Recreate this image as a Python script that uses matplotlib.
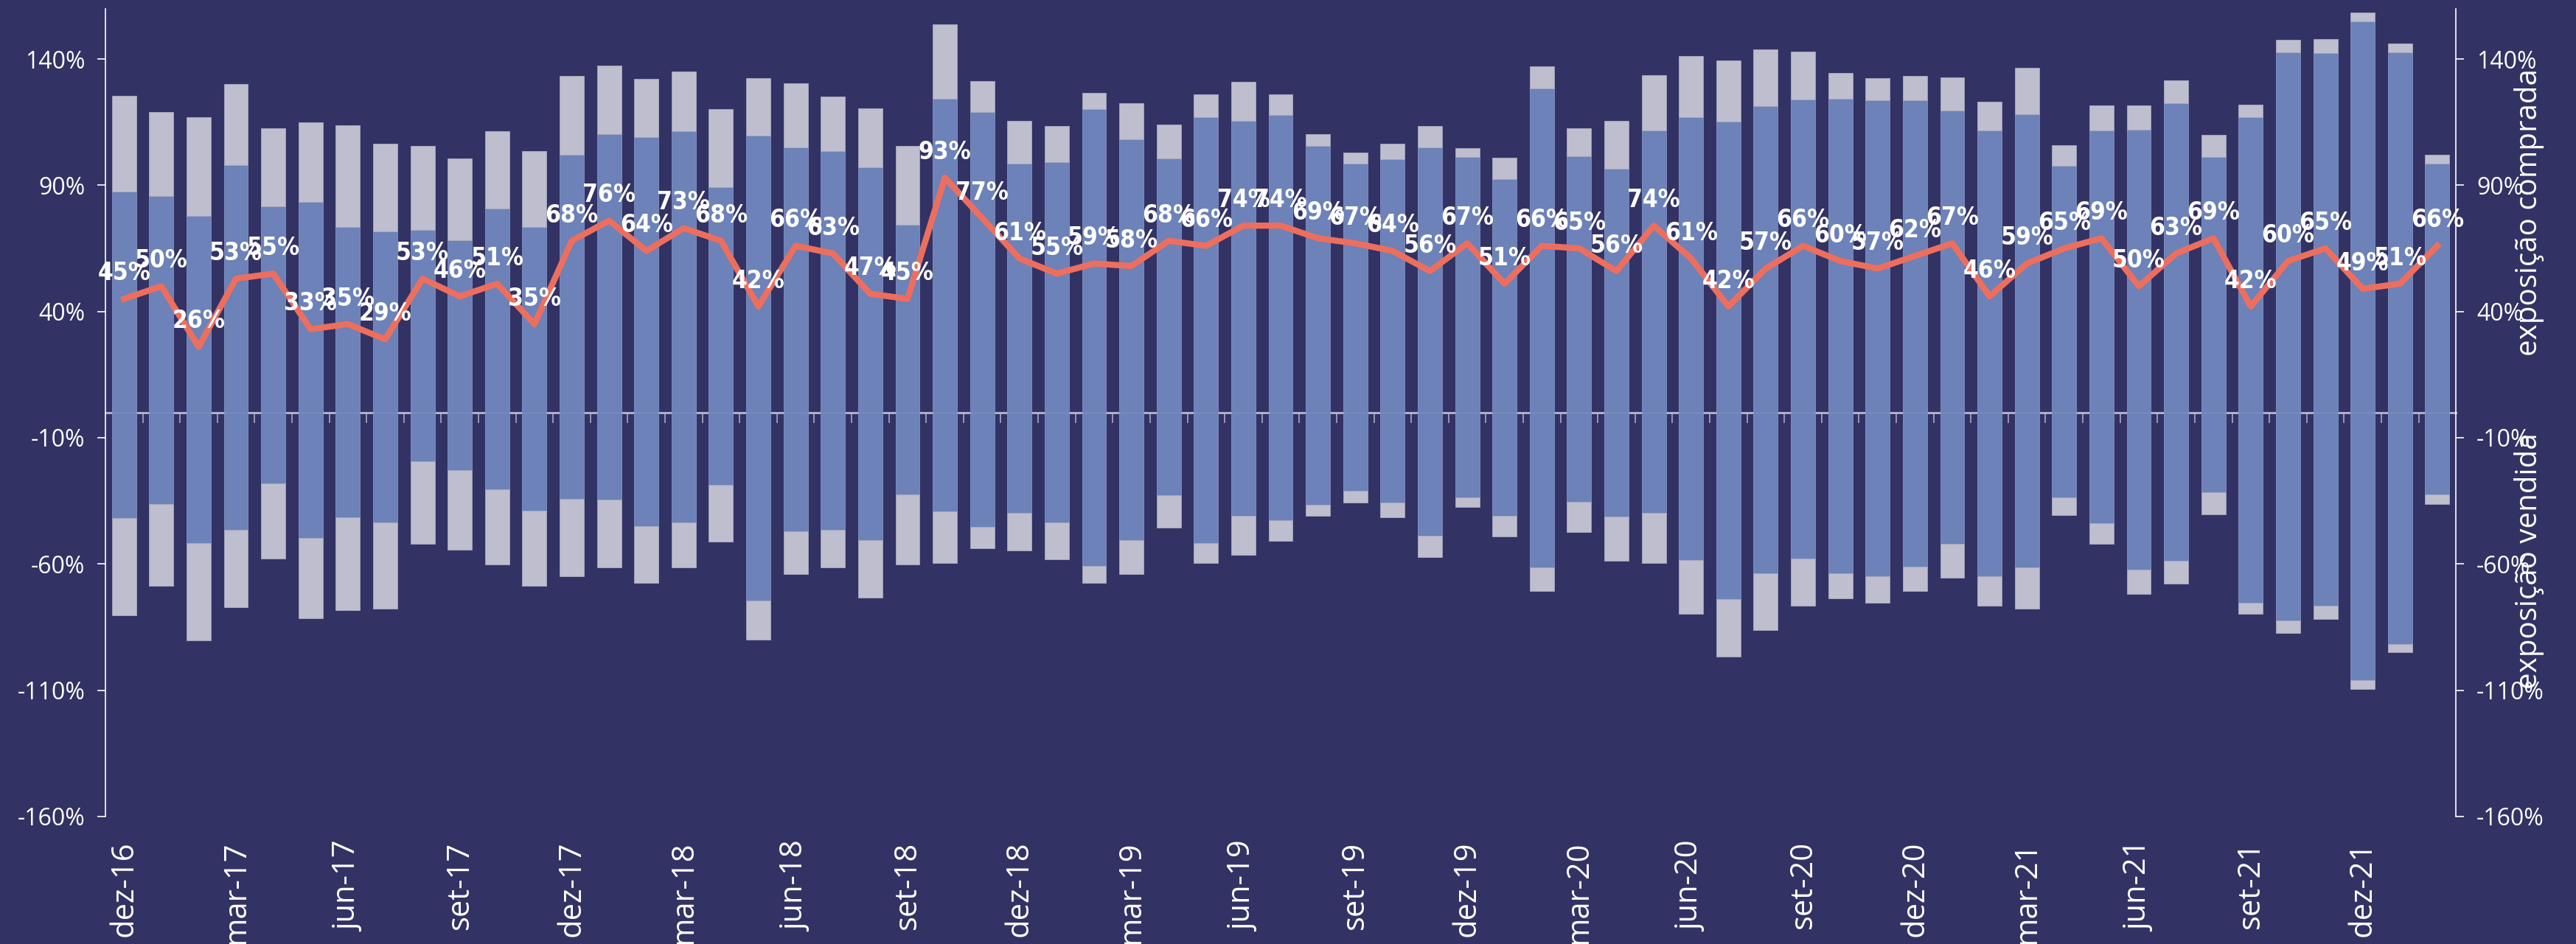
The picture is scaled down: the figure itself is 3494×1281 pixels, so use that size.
import matplotlib.pyplot as plt
import numpy as np

plt.rcParams['font.family'] = ['Open Sans', 'DejaVu Sans']

# meses de dez-16 a fev-22
abrev = ['jan', 'fev', 'mar', 'abr', 'mai', 'jun', 'jul', 'ago', 'set', 'out', 'nov', 'dez']
meses = ['dez-16'] + [f'{m}-{a}' for a in ['17', '18', '19', '20', '21'] for m in abrev] + ['jan-22', 'fev-22']

# exposicao comprada (parte azul e topo total)
comprado_base = [87.6, 85.6, 77.8, 98.0, 81.6, 83.3, 73.5, 71.6, 72.3, 68.1, 80.9, 73.5,
                 102.2, 110.2, 109.2, 111.3, 89.1, 109.7, 105.0, 103.4, 97.2, 74.3, 124.4, 118.9,
                 98.5, 99.2, 120.1, 108.1, 100.7, 117.1, 115.4, 117.8, 105.7, 98.5, 100.4, 105.0,
                 101.1, 92.5, 128.2, 101.5, 96.4, 111.6, 117.1, 115.1, 121.3, 124.1, 124.4, 123.6,
                 123.6, 119.7, 111.6, 118.1, 97.6, 111.6, 111.9, 122.4, 101.1, 117.1, 142.7, 142.3,
                 155.0, 142.7, 98.7]
comprado_total = [125.4, 118.9, 116.9, 130.1, 112.6, 115.0, 113.8, 106.5, 105.6, 100.6, 111.5, 103.6,
                  133.3, 137.5, 132.0, 135.2, 120.1, 132.4, 130.5, 125.0, 120.4, 105.6, 153.6, 131.3,
                  115.4, 113.4, 126.7, 122.4, 113.9, 125.9, 131.0, 125.9, 110.3, 103.0, 106.5, 113.4,
                  104.8, 101.0, 137.1, 112.6, 115.4, 133.6, 141.3, 139.4, 143.8, 142.9, 134.5, 132.4,
                  133.3, 132.8, 123.1, 136.6, 105.9, 121.5, 121.5, 131.6, 109.9, 121.9, 147.6, 148.0,
                  158.5, 146.1, 102.1]

# exposicao vendida
vendido_base = [-41.9, -36.3, -51.7, -46.4, -28.0, -49.6, -41.5, -43.5, -19.3, -22.8, -30.3, -38.9,
                -34.1, -34.5, -45.0, -43.5, -28.8, -74.6, -47.0, -46.4, -50.6, -32.4, -39.3, -45.4,
                -39.7, -43.5, -60.9, -50.6, -32.8, -51.7, -40.8, -42.8, -36.6, -31.1, -35.7, -48.9,
                -33.7, -40.8, -61.3, -35.3, -41.2, -39.7, -58.5, -73.8, -63.6, -57.9, -63.6, -64.8,
                -61.0, -52.1, -64.8, -61.3, -33.7, -43.9, -62.1, -58.7, -31.5, -75.3, -82.4, -76.5,
                -106.0, -91.6, -32.6]
vendido_total = [-80.3, -68.7, -90.4, -77.2, -57.8, -81.4, -78.4, -77.6, -51.9, -54.4, -60.1, -68.7,
                 -64.8, -61.3, -67.5, -61.3, -51.1, -90.0, -63.9, -61.3, -73.4, -60.1, -59.7, -53.8,
                 -54.8, -58.2, -67.5, -63.9, -45.7, -59.7, -56.3, -50.8, -41.0, -35.6, -41.5, -57.4,
                 -37.5, -49.2, -70.7, -47.3, -58.6, -59.7, -79.8, -96.6, -86.2, -76.5, -73.7, -75.3,
                 -70.7, -65.5, -76.5, -77.6, -40.6, -52.1, -71.8, -67.8, -40.4, -79.8, -87.3, -81.8,
                 -109.6, -95.0, -36.2]

# exposicao liquida (linha)
liquido = [45, 50, 26, 53, 55, 33, 35, 29, 53, 46, 51, 35, 68, 76, 64, 73, 68, 42, 66, 63, 47, 45,
           93, 77, 61, 55, 59, 58, 68, 66, 74, 74, 69, 67, 64, 56, 67, 51, 66, 65, 56, 74, 61, 42,
           57, 66, 60, 57, 62, 67, 46, 59, 65, 69, 50, 63, 69, 42, 60, 65, 49, 51, 66]

fundo = '#323264'
azul = '#6C82B8'
lavanda = '#BEBECF'
coral = '#EE6E5E'

x = np.arange(len(meses))
cb = np.array(comprado_base)
ct = np.array(comprado_total)
vb = np.array(vendido_base)
vt = np.array(vendido_total)

fig = plt.figure(figsize=(34.94, 12.81), dpi=100, facecolor=fundo)
ax = fig.add_axes([0.0409, 0.1351, 0.9125, 0.8559])
ax.set_facecolor(fundo)

w = 0.65
ax.bar(x, cb, width=w, color=azul, edgecolor='#8593C4', linewidth=0.6, zorder=2)
ax.bar(x, ct - cb, bottom=cb, width=w, color=lavanda, edgecolor='#A8A8BE', linewidth=0.6, zorder=2)
ax.bar(x, vb, width=w, color=azul, edgecolor='#8593C4', linewidth=0.6, zorder=2)
ax.bar(x, vt - vb, bottom=vb, width=w, color=lavanda, edgecolor='#A8A8BE', linewidth=0.6, zorder=2)

ax.plot(x, liquido, color=coral, lw=6, zorder=4)
for xi, v in zip(x, liquido):
    ax.annotate(f'{v}%', (xi, v), xytext=(0, 25), textcoords='offset points',
                ha='center', va='center', color='white', fontsize=24, fontweight='bold',
                family=['DejaVu Sans'], fontstretch='condensed', zorder=5)

ax.set_xlim(-0.5, len(meses) - 0.5)
ax.set_ylim(-160, 160)
yt = np.arange(-160, 141, 50)
ax.set_yticks(yt)
ax.set_yticklabels([f'{t}%' for t in yt])
ax.tick_params(axis='y', which='both', colors='white', labelsize=23, length=8, width=1.2,
               pad=12, right=True, labelright=True)
ax.set_xticks(x[::3])
ax.set_xticklabels(meses[::3], rotation=90)
ax.tick_params(axis='x', length=0, colors='white', labelsize=30, pad=24)

for s in ['top', 'bottom']:
    ax.spines[s].set_visible(False)
for s in ['left', 'right']:
    ax.spines[s].set_color('white')
    ax.spines[s].set_linewidth(1.2)

# eixo zero com marcas entre as barras
zero = ax.secondary_xaxis(0, transform=ax.transData)
zero.set_xticks(x[:-1] + 0.5)
zero.tick_params(direction='out', length=10, width=1.2, color='#A8A8C4', labelbottom=False, labeltop=False)
zero.spines['bottom'].set_color('#B8B8D2')
zero.spines['bottom'].set_linewidth(2)
zero.spines['top'].set_visible(False)

ax.text(1.031, 0.748, 'exposição comprada', transform=ax.transAxes, rotation=90,
        ha='center', va='center', fontsize=29, color='white')
ax.text(1.031, 0.316, 'exposição vendida', transform=ax.transAxes, rotation=90,
        ha='center', va='center', fontsize=29, color='white')

fig.savefig('out.png', dpi=100, facecolor=fundo)
